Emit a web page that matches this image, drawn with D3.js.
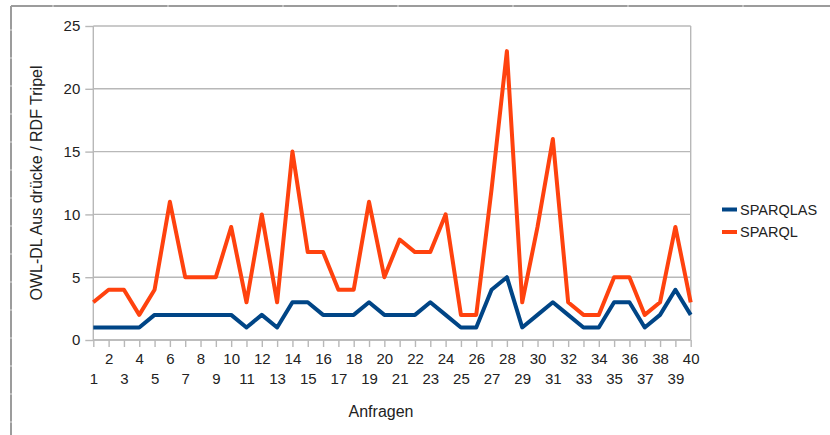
<!DOCTYPE html>
<html><head><meta charset="utf-8">
<script src="https://cdn.jsdelivr.net/npm/d3@7"></script>
<style>body{margin:0;background:#fff;}svg{display:block;font-family:"Liberation Sans",Arial,sans-serif;}</style>
</head><body>
<svg id="c" width="830" height="435"></svg>
<script>
const categories = d3.range(1, 41).map(String);
const sparqlas = [1,1,1,1,2,2,2,2,2,2,1,2,1,3,3,2,2,2,3,2,2,2,3,2,1,1,4,5,1,2,3,2,1,1,3,3,1,2,4,2];
const sparql   = [3,4,4,2,4,11,5,5,5,9,3,10,3,15,7,7,4,4,11,5,8,7,7,10,2,2,12,23,3,9,16,3,2,2,5,5,2,3,9,3];
const yTicks = [0,5,10,15,20,25];
const seriesNames = ["SPARQLAS","SPARQL"];
const seriesColors = ["#004586","#ff420e"];
const yTitle = "OWL-DL Aus drücke / RDF Tripel";
const xTitle = "Anfragen";

const svg = d3.select("#c");
const L = 93.3, R = 690.7, T = 26, B = 340;
const x = d3.scalePoint().domain(categories).range([L, R]);
const y = d3.scaleLinear().domain([0, 25]).range([B, T]);

// spreadsheet frame
svg.append("line").attr("x1",11).attr("x2",830).attr("y1",6).attr("y2",6).attr("stroke","#9c9c9c").attr("stroke-width",2);
svg.append("line").attr("x1",11).attr("x2",11).attr("y1",6).attr("y2",435).attr("stroke","#9c9c9c").attr("stroke-width",2);
[53,168,283,398,513,628,743].forEach(v=>svg.append("line").attr("x1",v).attr("x2",v).attr("y1",5).attr("y2",7).attr("stroke","#e0e0e0"));
d3.range(30,435,28).forEach(v=>svg.append("line").attr("x1",10).attr("x2",12).attr("y1",v).attr("y2",v).attr("stroke","#e0e0e0"));

// grid
const g = svg.append("g");
g.selectAll(".grid").data(yTicks).join("line")
  .attr("x1", L).attr("x2", R).attr("y1", d=>y(d)).attr("y2", d=>y(d))
  .attr("stroke","#b8b8b8").attr("stroke-width",1.4);
g.append("line").attr("x1",R).attr("x2",R).attr("y1",T).attr("y2",B).attr("stroke","#b8b8b8").attr("stroke-width",1.4);

// y axis
const yAxis = svg.append("g").attr("transform",`translate(${L},0)`)
  .call(d3.axisLeft(y).tickValues(yTicks).tickSize(8).tickPadding(5));
yAxis.select(".domain").attr("stroke","#b8b8b8").attr("stroke-width",1.4).attr("d",`M0,${T}V${B}`);
yAxis.selectAll(".tick line").attr("stroke","#b8b8b8").attr("stroke-width",1.4);
yAxis.selectAll(".tick text").attr("font-size",15).attr("fill","#222").attr("font-family","Liberation Sans, Arial, sans-serif");

// x axis
const xAxis = svg.append("g").attr("transform",`translate(0,${B})`)
  .call(d3.axisBottom(x).tickSize(7).tickPadding(4));
xAxis.select(".domain").attr("stroke","#b8b8b8").attr("stroke-width",1.4).attr("d",`M${L},0H${R}`);
xAxis.selectAll(".tick line").attr("stroke","#b8b8b8").attr("stroke-width",1.4);
xAxis.selectAll(".tick text").attr("font-size",15).attr("fill","#222").attr("font-family","Liberation Sans, Arial, sans-serif")
  .attr("y", d => (+d % 2 === 0) ? 13 : 33).attr("dy","0.71em");

// lines
const line = d3.line().x((d,i)=>x(categories[i])).y(d=>y(d));
[sparqlas, sparql].forEach((s,i)=>{
  svg.append("path").datum(s).attr("d", line).attr("fill","none")
    .attr("stroke", seriesColors[i]).attr("stroke-width",4).attr("stroke-linejoin","round");
});

// titles
svg.append("text").attr("transform",`translate(36,${(T+B)/2}) rotate(-90)`).attr("text-anchor","middle")
  .attr("dy","0.35em").attr("font-size",16).attr("fill","#222").text(yTitle);
svg.append("text").attr("x",381).attr("y",411).attr("text-anchor","middle").attr("dy","0.35em")
  .attr("font-size",16).attr("fill","#222").text(xTitle);

// legend
const lg = svg.append("g");
seriesNames.forEach((n,i)=>{
  const yy = 209.5 + i*22.5;
  lg.append("line").attr("x1",722).attr("x2",737).attr("y1",yy).attr("y2",yy).attr("stroke",seriesColors[i]).attr("stroke-width",4);
  lg.append("text").attr("x",740).attr("y",yy).attr("dy","0.35em").attr("font-size",14.5).attr("fill","#222").text(n);
});
</script>
</body></html>
